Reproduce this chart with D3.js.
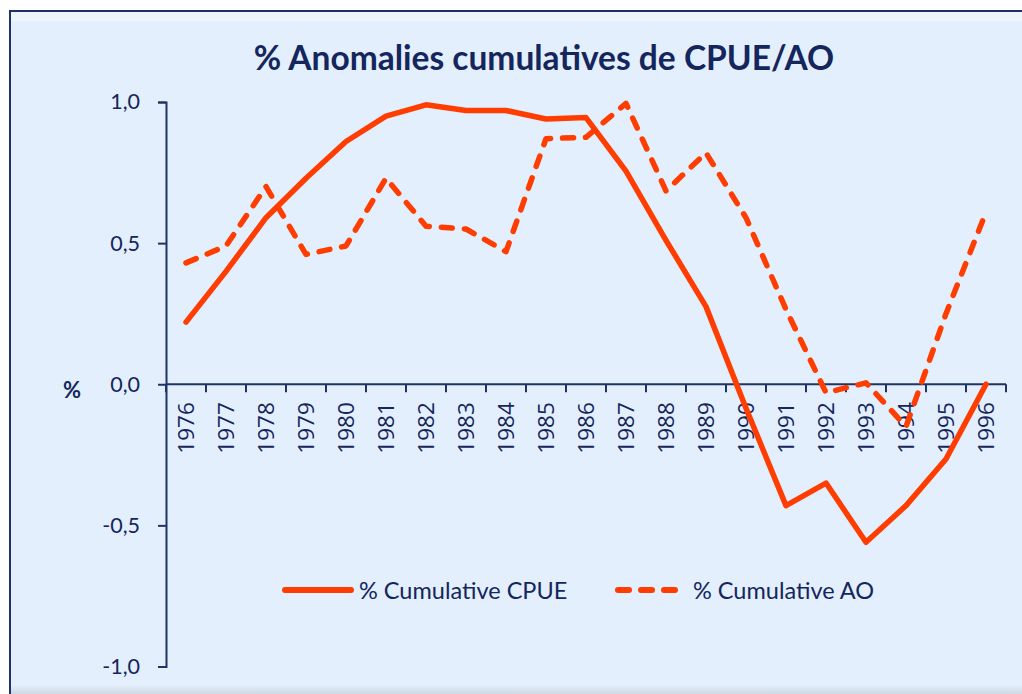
<!DOCTYPE html>
<html lang="fr">
<head>
  <meta charset="UTF-8">
  <title>% Anomalies cumulatives de CPUE/AO</title>
  <script src="https://d3js.org/d3.v7.min.js"></script>
  <style>
    body { margin: 0; background: #fff; }
    svg { display: block; }
    text { font-family: Lato, "Open Sans", sans-serif; fill: #14265c; }
    .years text { font-family: "Open Sans", sans-serif; }
  </style>
</head>
<body>
  <svg width="1022" height="694"></svg>

  <script>
    // years on the category axis
    const years = ["1976", "1977", "1978", "1979", "1980", "1981", "1982", "1983", "1984", "1985",
                   "1986", "1987", "1988", "1989", "1990", "1991", "1992", "1993", "1994", "1995", "1996"];

    // % cumulative CPUE (solid)
    const cpue = [0.22, 0.40, 0.59, 0.73, 0.86, 0.95, 0.99, 0.97, 0.97, 0.94, 0.945,
                  0.755, 0.51, 0.275, -0.085, -0.43, -0.35, -0.56, -0.43, -0.265, 0.0];

    // % cumulative AO (dashed)
    const ao = [0.43, 0.49, 0.70, 0.46, 0.49, 0.73, 0.56, 0.55, 0.47, 0.87, 0.875,
                0.995, 0.685, 0.82, 0.59, 0.265, -0.03, 0.005, -0.15, 0.25, 0.61];

    const yTicks = [-1.0, -0.5, 0.0, 0.5, 1.0];

    const series = [
      { name: "% Cumulative CPUE", values: cpue, dash: null },
      { name: "% Cumulative AO", values: ao, dash: "11,12" }
    ];

    const orange = "#ff3d00",
          navy = "#1f3366";

    const svg = d3.select("svg");

    // chart frame
    const defs = svg.append("defs");
    const shade = defs.append("linearGradient")
        .attr("id", "shade").attr("x1", 0).attr("y1", 0).attr("x2", 0).attr("y2", 1);
    shade.append("stop").attr("offset", 0).attr("stop-color", "#e3effc");
    shade.append("stop").attr("offset", 1).attr("stop-color", "#cdd8e4");

    svg.append("rect")
        .attr("x", 10).attr("y", 11)
        .attr("width", 1040).attr("height", 700)
        .attr("fill", "#e3effc")
        .attr("stroke", navy)
        .attr("stroke-width", 2);
    svg.append("rect")
        .attr("x", 11).attr("y", 12).attr("width", 1030).attr("height", 9)
        .attr("fill", "#edf5fd");
    svg.append("rect")
        .attr("x", 11).attr("y", 685).attr("width", 1030).attr("height", 9)
        .attr("fill", "url(#shade)");

    // scales
    const x = d3.scaleBand()
        .domain(years)
        .range([166, 1006]);

    const y = d3.scaleLinear()
        .domain([-1, 1])
        .range([666.5, 102]);

    // title
    svg.append("text")
        .attr("x", 544)
        .attr("y", 70)
        .attr("text-anchor", "middle")
        .attr("font-size", 33.5)
        .attr("font-weight", "bold")
        .text("% Anomalies cumulatives de CPUE/AO");

    // y axis
    const yAxis = svg.append("g")
        .attr("transform", `translate(${x.range()[0]},0)`)
        .call(d3.axisLeft(y)
          .tickValues(yTicks)
          .tickSize(8)
          .tickPadding(18)
          .tickFormat(d => d3.format(".1f")(d).replace(".", ",").replace("−", "-")));
    yAxis.select(".domain").attr("stroke", navy).attr("stroke-width", 2);
    yAxis.selectAll(".tick line").attr("stroke", navy).attr("stroke-width", 2);
    yAxis.selectAll(".tick text")
        .attr("font-size", 21.5)
        .attr("font-family", "Lato, sans-serif")
        .attr("fill", "#14265c");

    svg.append("text")
        .attr("x", 72)
        .attr("y", 398)
        .attr("text-anchor", "middle")
        .attr("font-size", 22)
        .attr("font-weight", "bold")
        .text("%");

    // x axis at zero, ticks between categories
    const xAxis = svg.append("g").attr("class", "years")
        .attr("transform", `translate(0,${y(0)})`);

    xAxis.append("line")
        .attr("x1", x.range()[0]).attr("x2", x.range()[1])
        .attr("stroke", navy).attr("stroke-width", 2);

    xAxis.selectAll(".tk")
      .data(years.concat(["end"]))
      .join("line")
        .attr("class", "tk")
        .attr("x1", (d, i) => x.range()[0] + i * x.step())
        .attr("x2", (d, i) => x.range()[0] + i * x.step())
        .attr("y1", 0).attr("y2", 8)
        .attr("stroke", navy).attr("stroke-width", 2);

    xAxis.selectAll("text")
      .data(years)
      .join("text")
        .attr("transform", d => `translate(${x(d) + x.bandwidth() / 2 + 8},18) rotate(-90)`)
        .attr("text-anchor", "end")
        .attr("font-size", 22.5)
        .text(d => d);

    // lines
    const line = d3.line()
        .x((d, i) => x(years[i]) + x.bandwidth() / 2)
        .y(d => y(d));

    svg.append("g")
        .attr("fill", "none")
      .selectAll("path")
      .data(series)
      .join("path")
        .attr("d", d => line(d.values))
        .attr("stroke", orange)
        .attr("stroke-width", 5.5)
        .attr("stroke-linejoin", "round")
        .attr("stroke-linecap", "round")
        .attr("stroke-dasharray", d => d.dash);

    // legend
    const legendX = [285, 618];
    const legend = svg.append("g")
      .selectAll("g")
      .data(series)
      .join("g")
        .attr("transform", (d, i) => `translate(${legendX[i]},590)`);

    legend.append("line")
        .attr("x1", 0).attr("x2", (d, i) => i === 0 ? 66 : 58)
        .attr("stroke", orange)
        .attr("stroke-width", 6)
        .attr("stroke-linecap", "round")
        .attr("stroke-dasharray", d => d.dash);

    legend.append("text")
        .attr("x", (d, i) => i === 0 ? 74 : 75)
        .attr("y", 8.5)
        .attr("font-size", 23.5)
        .text(d => d.name);
  </script>
</body>
</html>
